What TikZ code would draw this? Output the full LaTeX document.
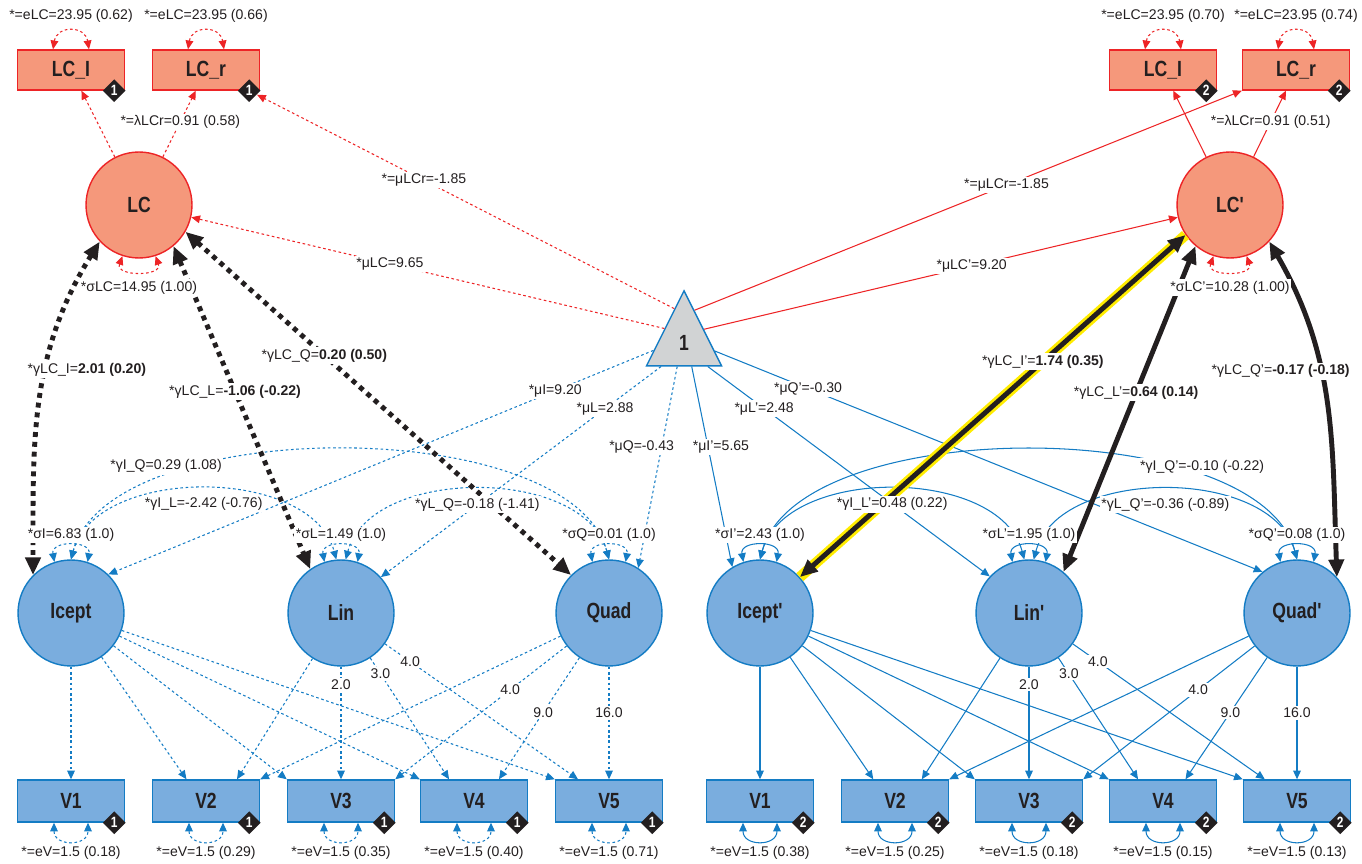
\documentclass[tikz,border=0pt]{standalone}
\usepackage{fontspec}
\setmainfont{Liberation Sans}
\newfontfamily\nodefont{Liberation Sans}[FakeStretch=0.8]
\usetikzlibrary{arrows.meta,shapes.geometric,positioning}

\definecolor{lcfill}{RGB}{245,152,123}
\definecolor{lcred}{RGB}{237,36,38}
\definecolor{grfill}{RGB}{122,173,222}
\definecolor{grblue}{RGB}{20,124,196}
\definecolor{trifill}{RGB}{209,211,212}
\definecolor{pathblack}{RGB}{35,31,32}
\definecolor{hilite}{RGB}{255,236,0}

\begin{document}
\begin{tikzpicture}[x=0.02cm, y=0.02cm,
    >={Triangle[length=5pt,width=4.4pt]},
    lbl/.style={font=\fontsize{8}{9}\selectfont, text=pathblack, fill=white, inner sep=1pt},
    nodetxt/.style={font=\nodefont\bfseries\fontsize{12.5}{13}\selectfont, text=pathblack},
    lcbox/.style={nodetxt, rectangle, draw=lcred, fill=lcfill, line width=0.8pt, minimum width=2.14cm, minimum height=0.8cm},
    lccirc/.style={nodetxt, circle, draw=lcred, fill=lcfill, line width=0.8pt, minimum size=2.12cm, inner sep=0pt},
    grbox/.style={nodetxt, rectangle, draw=grblue, fill=grfill, line width=0.8pt, minimum width=2.14cm, minimum height=0.84cm},
    grcirc/.style={nodetxt, circle, draw=grblue, fill=grfill, line width=0.8pt, minimum size=2.12cm, inner sep=0pt},
    badge/.style={diamond, fill=pathblack, text=white, minimum size=0.46cm, inner sep=0pt, font=\nodefont\bfseries\fontsize{8.5}{9}\selectfont},
    meantri/.style={nodetxt, isosceles triangle, isosceles triangle stretches, shape border rotate=90, minimum width=1.5cm, minimum height=1.5cm, inner sep=0pt, draw=grblue, fill=trifill, line width=0.8pt},
    rdot/.style={lcred, line width=0.6pt, dash pattern=on 1.5pt off 1.5pt},
    rsol/.style={lcred, line width=0.6pt},
    bdot/.style={grblue, line width=0.6pt, dash pattern=on 1.5pt off 1.5pt},
    bsol/.style={grblue, line width=0.6pt},
    cdot/.style={pathblack, line width=2.8pt, dash pattern=on 2.8pt off 2.8pt, >={Triangle[length=10pt,width=8.5pt]}, <->},
    csol/.style={pathblack, line width=2.8pt, >={Triangle[length=10pt,width=8.5pt]}, <->}]

    % Bounding box (same proportions as the reference)
    \useasboundingbox (0,-864) rectangle (1362,0);

    % Indicators of the latent change (group 1 left, group 2 right)
    \node[lcbox] (LCI) at (71,-70) {LC\_I};
    \node[lcbox] (LCr) at (206,-70) {LC\_r};
    \node[lcbox] (LCI2) at (1163,-70) {LC\_I};
    \node[lcbox] (LCr2) at (1296,-70) {LC\_r};
    \node[badge] (bLCI) at ([xshift=-0.22cm]LCI.south east) {1};
    \node[badge] (bLCr) at ([xshift=-0.22cm]LCr.south east) {1};
    \node[badge] (bLCI2) at ([xshift=-0.22cm]LCI2.south east) {2};
    \node[badge] (bLCr2) at ([xshift=-0.22cm]LCr2.south east) {2};

    % Latent change factors
    \node[lccirc] (LC) at (139,-205) {LC};
    \node[lccirc] (LC2) at (1230,-205) {LC'};

    % Constant (means)
    \node[meantri, anchor=apex] (one) at (684,-289) {1};

    % Growth factors
    \node[grcirc] (Icept) at (71,-613) {Icept};
    \node[grcirc] (Lin) at (341,-613) {Lin};
    \node[grcirc] (Quad) at (609,-613) {Quad};
    \node[grcirc] (Icept2) at (760,-613) {Icept'};
    \node[grcirc] (Lin2) at (1029,-613) {Lin'};
    \node[grcirc] (Quad2) at (1297,-613) {Quad'};

    % Observed scores with residual variances
    \foreach \i/\x/\ev in {1/71/0.18,2/206/0.29,3/341/0.35,4/474/0.40,5/609/0.71} {
        \node[grbox] (V\i) at (\x,-801) {V\i};
        \node[badge] (bV\i) at ([xshift=-0.22cm]V\i.south east) {1};
        \draw[bdot,<->] ([xshift=-0.34cm]V\i.south) .. controls +(0,-24) and +(0,-24) .. ([xshift=0.34cm]V\i.south)
            node[lbl,midway,below=2pt] {*=eV=1.5 (\ev)};
    }
    \foreach \i/\x/\ev in {1/760/0.38,2/895/0.25,3/1029/0.18,4/1163/0.15,5/1297/0.13} {
        \node[grbox] (W\i) at (\x,-801) {V\i};
        \node[badge] (bW\i) at ([xshift=-0.22cm]W\i.south east) {2};
        \draw[bsol,<->] ([xshift=-0.34cm]W\i.south) .. controls +(0,-24) and +(0,-24) .. ([xshift=0.34cm]W\i.south)
            node[lbl,midway,below=2pt] {*=eV=1.5 (\ev)};
    }

    % Residual variances of LC indicators
    \draw[rdot,<->] ([xshift=-0.36cm]LCI.north) .. controls +(4,24) and +(-4,24) .. ([xshift=0.36cm]LCI.north)
        node[lbl,midway,above=4pt] {*=eLC=23.95 (0.62)};
    \draw[rdot,<->] ([xshift=-0.36cm]LCr.north) .. controls +(4,24) and +(-4,24) .. ([xshift=0.36cm]LCr.north)
        node[lbl,midway,above=4pt] {*=eLC=23.95 (0.66)};
    \draw[rdot,<->] ([xshift=-0.36cm]LCI2.north) .. controls +(4,24) and +(-4,24) .. ([xshift=0.36cm]LCI2.north)
        node[lbl,midway,above=4pt] {*=eLC=23.95 (0.70)};
    \draw[rdot,<->] ([xshift=-0.36cm]LCr2.north) .. controls +(4,24) and +(-4,24) .. ([xshift=0.36cm]LCr2.north)
        node[lbl,midway,above=4pt] {*=eLC=23.95 (0.74)};

    % Loadings of LC
    \draw[rdot,->] (LC) -- (LCI);
    \draw[rdot,->] (LC) -- (LCr) node[lbl,pos=.53] {*=λLCr=0.91 (0.58)};
    \draw[rsol,->] (LC2) -- (LCI2);
    \draw[rsol,->] (LC2) -- (LCr2) node[lbl,pos=.53] {*=λLCr=0.91 (0.51)};

    % Covariances among growth factors (labels come last)
    \draw[bdot,<->] (Icept.north) to[out=75,in=105,looseness=0.72]
        coordinate[pos=.25,yshift=0.22cm] (cIQ) (Quad.north);
    \draw[bdot,<->] (Icept.north) to[out=75,in=105,looseness=0.94]
        coordinate[pos=.5,yshift=-0.3cm] (cIL) (Lin.95);
    \draw[bdot,<->] (Lin.85) to[out=75,in=105,looseness=0.94]
        coordinate[pos=.5,yshift=-0.3cm] (cLQ) (Quad.north);
    \draw[bsol,<->] (Icept2.north) to[out=75,in=105,looseness=0.72]
        coordinate[pos=.75,yshift=0.22cm] (cIQ2) (Quad2.north);
    \draw[bsol,<->] (Icept2.north) to[out=75,in=105,looseness=0.94]
        coordinate[pos=.5,yshift=-0.3cm] (cIL2) (Lin2.95);
    \draw[bsol,<->] (Lin2.85) to[out=75,in=105,looseness=0.94]
        coordinate[pos=.5,yshift=-0.3cm] (cLQ2) (Quad2.north);

    % Growth loadings (group 1)
    \draw[bdot,->] (Icept) -- (V1);
    \draw[bdot,->] (Icept) -- (V2.132);
    \draw[bdot,->] (Icept) -- (V3.north west);
    \draw[bdot,->] (Icept) -- (V4.north west);
    \draw[bdot,->] (Icept) -- (V5.north west);
    \draw[bdot,->] (Lin) -- (V2.35);
    \draw[bdot,->] (Lin) -- (V3.north) node[lbl,pos=.16] {2.0};
    \draw[bdot,->] (Lin) -- (V4.139) node[lbl,pos=.13] {3.0};
    \draw[bdot,->] (Lin) -- (V5.145) node[lbl,pos=.13] {4.0};
    \draw[bdot,->] (Quad) -- (V2.north east);
    \draw[bdot,->] (Quad) -- (V3.north east) node[lbl,pos=.33] {4.0};
    \draw[bdot,->] (Quad) -- (V4.41) node[lbl,pos=.45] {9.0};
    \draw[bdot,->] (Quad) -- (V5.north) node[lbl,pos=.41] {16.0};

    % Growth loadings (group 2)
    \draw[bsol,->] (Icept2) -- (W1);
    \draw[bsol,->] (Icept2) -- (W2.135);
    \draw[bsol,->] (Icept2) -- (W3.north west);
    \draw[bsol,->] (Icept2) -- (W4.north west);
    \draw[bsol,->] (Icept2) -- (W5.north west);
    \draw[bsol,->] (Lin2) -- (W2.39);
    \draw[bsol,->] (Lin2) -- (W3.north) node[lbl,pos=.16] {2.0};
    \draw[bsol,->] (Lin2) -- (W4.139) node[lbl,pos=.13] {3.0};
    \draw[bsol,->] (Lin2) -- (W5.146) node[lbl,pos=.13] {4.0};
    \draw[bsol,->] (Quad2) -- (W2.north east);
    \draw[bsol,->] (Quad2) -- (W3.north east) node[lbl,pos=.33] {4.0};
    \draw[bsol,->] (Quad2) -- (W4.44) node[lbl,pos=.45] {9.0};
    \draw[bsol,->] (Quad2) -- (W5.north) node[lbl,pos=.41] {16.0};

    % Means from the constant
    \draw[rdot,->] (one.106) -- (bLCr) node[lbl,pos=.6] {*=μLCr=-1.85};
    \draw[rdot,->] (one.144) -- (LC) node[lbl,pos=.58] {*μLC=9.65};
    \draw[rsol,->] (one.72) -- (LCr2.south west) node[lbl,pos=.57] {*=μLCr=-1.85};
    \draw[rsol,->] (one.34) -- (LC2) node[lbl,pos=.565] {*μLC'=9.20};
    \draw[bdot,->] (one.194) -- (Icept.46) node[lbl,pos=.18] {*μI=9.20};
    \draw[bdot,->] (one.226) -- (Lin.42) node[lbl,pos=.2] {*μL=2.88};
    \draw[bdot,->] (one.254) -- (Quad.57) node[lbl,pos=.4,xshift=-0.4cm] {*μQ=-0.43};
    \draw[bsol,->] (one.288) -- (Icept2.121) node[lbl,pos=.4,xshift=0.26cm] {*μI'=5.65};
    \draw[bsol,->] (one.315) -- (Lin2.137) node[lbl,pos=.2] {*μL'=2.48};
    \draw[bsol,->] (one.345) -- (Quad2.130) node[lbl,pos=.17] {*μQ'=-0.30};

    % LC with growth factors (group 1 dotted)
    \draw[cdot] (LC.223) to[out=238,in=90]
        node[lbl,pos=.4,xshift=0.82cm] {*γLC\_I=\textbf{2.01 (0.20)}} (Icept.135);
    \draw[cdot] (LC.310) -- (Lin.125) node[lbl,pos=.45] {*γLC\_L=\textbf{-1.06 (-0.22)}};
    \draw[cdot] (LC.330) -- (Quad.135) node[lbl,pos=.36] {*γLC\_Q=\textbf{0.20 (0.50)}};

    % LC with growth factors (group 2 solid, highlighted)
    \draw[csol, preaction={draw=hilite, line width=6pt, -}] (LC2.214) -- (Icept2.42)
        node[lbl,pos=.37] {*γLC\_I'=\textbf{1.74 (0.35)}};
    \draw[csol] (LC2.230) -- (Lin2.50) node[lbl,pos=.45] {*γLC\_L'=\textbf{0.64 (0.14)}};
    \draw[csol] (LC2.317) to[out=-60,in=92]
        node[lbl,pos=.4,xshift=-0.8cm] {*γLC\_Q'=\textbf{-0.17 (-0.18)}} (Quad2.42);

    % Variances of LC
    \draw[rdot,<->] (LC.252) .. controls +(250:22) and +(290:22) .. (LC.288)
        node[lbl,midway,below=4pt] {*σLC=14.95 (1.00)};
    \draw[rdot,<->] (LC2.252) .. controls +(250:22) and +(290:22) .. (LC2.288)
        node[lbl,midway,below=4pt] {*σLC'=10.28 (1.00)};

    % Variances of growth factors
    \draw[bdot,<->] (Icept.108) .. controls +(100:22) and +(80:22) .. (Icept.72) node[lbl,midway,above=1pt] {*σI=6.83 (1.0)};
    \draw[bdot,<->] (Lin.108) .. controls +(100:22) and +(80:22) .. (Lin.72) node[lbl,midway,above=1pt] {*σL=1.49 (1.0)};
    \draw[bdot,<->] (Quad.108) .. controls +(100:22) and +(80:22) .. (Quad.72) node[lbl,midway,above=1pt] {*σQ=0.01 (1.0)};
    \draw[bsol,<->] (Icept2.108) .. controls +(100:22) and +(80:22) .. (Icept2.72) node[lbl,midway,above=1pt] {*σI'=2.43 (1.0)};
    \draw[bsol,<->] (Lin2.108) .. controls +(100:22) and +(80:22) .. (Lin2.72) node[lbl,midway,above=1pt] {*σL'=1.95 (1.0)};
    \draw[bsol,<->] (Quad2.108) .. controls +(100:22) and +(80:22) .. (Quad2.72) node[lbl,midway,above=1pt] {*σQ'=0.08 (1.0)};

    % Covariance labels (on top)
    \node[lbl] (lIQ) at (cIQ) {*γI\_Q=0.29 (1.08)};
    \node[lbl] (lIL) at (cIL) {*γI\_L=-2.42 (-0.76)};
    \node[lbl] (lLQ) at (cLQ) {*γL\_Q=-0.18 (-1.41)};
    \node[lbl] (lIQ2) at (cIQ2) {*γI\_Q'=-0.10 (-0.22)};
    \node[lbl] (lIL2) at (cIL2) {*γI\_L'=0.48 (0.22)};
    \node[lbl] (lLQ2) at (cLQ2) {*γL\_Q'=-0.36 (-0.89)};
\end{tikzpicture}
\end{document}
